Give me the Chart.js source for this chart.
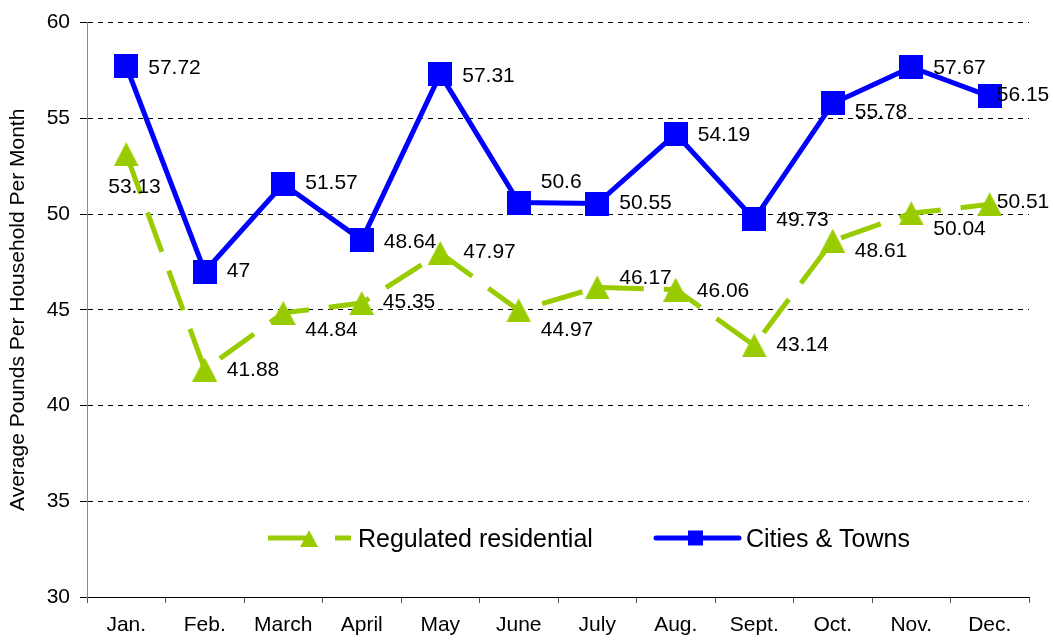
<!DOCTYPE html>
<html>
<head>
<meta charset="utf-8">
<script src="https://cdn.jsdelivr.net/npm/chart.js@4/dist/chart.umd.min.js"></script>
<style>
  body { margin: 0; background: #fff; }
  canvas { display: block; }
</style>
</head>
<body>
<canvas id="chart" width="1053" height="641"></canvas>
<script>
// chart values
const months = ["Jan.", "Feb.", "March", "April", "May", "June", "July", "Aug.", "Sept.", "Oct.", "Nov.", "Dec."];
const regulated = [53.13, 41.88, 44.84, 45.35, 47.97, 44.97, 46.17, 46.06, 43.14, 48.61, 50.04, 50.51];
const cities = [57.72, 47, 51.57, 48.64, 57.31, 50.6, 50.55, 54.19, 49.73, 55.78, 57.67, 56.15];
const yTicks = [30, 35, 40, 45, 50, 55, 60];

const GREEN = "#99CC00";
const BLUE = "#0000FF";
const FONT = "'Liberation Sans', Arial, sans-serif";

// label nudges (dx = left edge from point, dy = text centre from point)
const regShift = [[-18, 31], [22, -1], [22, 16], [21, -3], [23, -2], [22, 18], [22, -11], [21, 0], [22, -2], [22, 9], [22, 14], [7, -4]];
const cityShift = [[22, 0], [22, -2], [22, -3], [22, 0], [22, 0], [22, -22], [22, -2], [22, 0], [22, -1], [22, 7], [22, -1], [7, -3]];

function triMarker(w, h, color) {
  const c = document.createElement("canvas");
  c.width = w; c.height = h;
  const g = c.getContext("2d");
  g.fillStyle = color;
  g.beginPath();
  g.moveTo(w / 2, 0);
  g.lineTo(w, h);
  g.lineTo(0, h);
  g.closePath();
  g.fill();
  return c;
}

function sqMarker(s, color) {
  const c = document.createElement("canvas");
  c.width = s; c.height = s;
  const g = c.getContext("2d");
  g.fillStyle = color;
  g.fillRect(0, 0, s, s);
  return c;
}

Chart.defaults.font.family = FONT;
Chart.defaults.color = "#000";

// value labels next to every point
const valueLabels = {
  id: "valueLabels",
  afterDatasetsDraw(chart) {
    const ctx = chart.ctx;
    const shifts = [regShift, cityShift];
    ctx.save();
    ctx.font = "21px " + FONT;
    ctx.fillStyle = "#000";
    ctx.textAlign = "left";
    ctx.textBaseline = "alphabetic";
    chart.data.datasets.forEach((ds, i) => {
      const meta = chart.getDatasetMeta(i);
      meta.data.forEach((pt, j) => {
        const [dx, dy] = shifts[i][j];
        ctx.fillText(String(ds.data[j]), pt.x + dx, pt.y + dy + 7.5);
      });
    });
    ctx.restore();
  }
};

// legend sitting inside the plot area
const innerLegend = {
  id: "innerLegend",
  afterDraw(chart) {
    const ctx = chart.ctx;
    const y = 538;
    ctx.save();
    // regulated residential
    ctx.strokeStyle = GREEN;
    ctx.lineWidth = 5;
    ctx.lineCap = "butt";
    ctx.beginPath();
    ctx.moveTo(268, y); ctx.lineTo(310, y);
    ctx.moveTo(335, y); ctx.lineTo(351, y);
    ctx.stroke();
    ctx.fillStyle = GREEN;
    ctx.beginPath();
    ctx.moveTo(309, y - 8);
    ctx.lineTo(318, y + 9);
    ctx.lineTo(300, y + 9);
    ctx.closePath();
    ctx.fill();
    // cities & towns
    ctx.strokeStyle = BLUE;
    ctx.lineCap = "round";
    ctx.beginPath();
    ctx.moveTo(656, y); ctx.lineTo(739, y);
    ctx.stroke();
    ctx.fillStyle = BLUE;
    ctx.fillRect(688, y - 7.5, 15, 15);
    // texts
    ctx.fillStyle = "#000";
    ctx.font = "25px " + FONT;
    ctx.textBaseline = "alphabetic";
    ctx.fillText(chart.data.datasets[0].label, 358, y + 9);
    ctx.fillText(chart.data.datasets[1].label, 746, y + 9);
    ctx.restore();
  }
};

new Chart(document.getElementById("chart"), {
  type: "line",
  data: {
    labels: months,
    datasets: [
      {
        label: "Regulated residential",
        data: regulated,
        borderColor: GREEN,
        backgroundColor: GREEN,
        borderWidth: 5,
        borderDash: [42, 20],
        tension: 0,
        pointStyle: triMarker(25, 24, GREEN),
        pointRadius: 12,
        fill: false
      },
      {
        label: "Cities & Towns",
        data: cities,
        borderColor: BLUE,
        backgroundColor: BLUE,
        borderWidth: 5,
        tension: 0,
        pointStyle: sqMarker(24, BLUE),
        pointRadius: 12,
        fill: false
      }
    ]
  },
  options: {
    responsive: false,
    animation: false,
    devicePixelRatio: 1,
    events: [],
    layout: { padding: { top: 18, right: 24, left: 0, bottom: 0 } },
    plugins: {
      legend: { display: false },
      tooltip: { enabled: false }
    },
    scales: {
      x: {
        offset: true,
        afterFit: (s) => { s.height = 44; },
        grid: {
          offset: true,
          drawOnChartArea: false,
          drawTicks: true,
          tickLength: 6,
          tickColor: "#555",
          tickWidth: 1
        },
        border: { display: true, color: "#000", width: 1 },
        ticks: {
          font: { size: 21 },
          color: "#000",
          padding: 10,
          maxRotation: 0,
          autoSkip: false
        }
      },
      y: {
        min: yTicks[0],
        max: yTicks[yTicks.length - 1],
        afterFit: (s) => { s.width = 87; },
        afterBuildTicks: (s) => { s.ticks = yTicks.map((v) => ({ value: v })); },
        grid: {
          color: "#000",
          lineWidth: 1,
          tickLength: 7,
          tickColor: "#000",
          tickBorderDash: []
        },
        border: { display: true, color: "#888", width: 1, dash: [5, 5] },
        ticks: {
          font: { size: 21 },
          color: "#000",
          padding: 10
        },
        title: {
          display: true,
          text: "Average Pounds Per Household Per Month",
          font: { size: 21 },
          color: "#000",
          padding: { top: 6, bottom: 0 }
        }
      }
    }
  },
  plugins: [valueLabels, innerLegend]
});
</script>
</body>
</html>
